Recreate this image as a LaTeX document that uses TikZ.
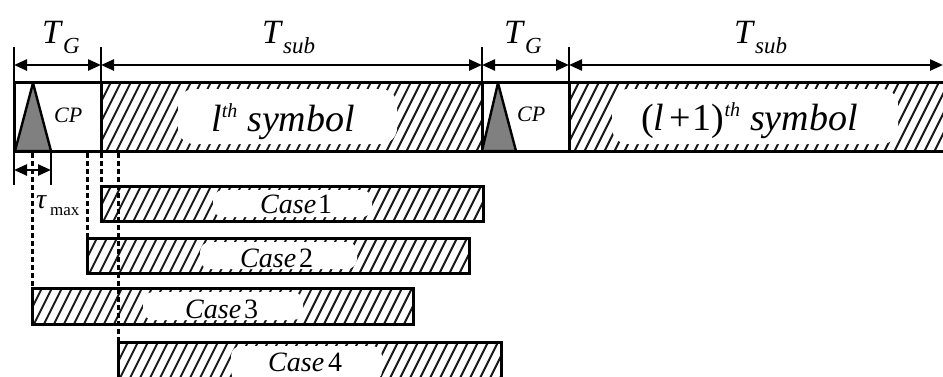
\documentclass[tikz,border=0pt]{standalone}
\usepackage{fontspec}
\setmainfont{Liberation Serif}
\usetikzlibrary{arrows.meta}
\newcommand\fs[1]{\fontsize{#1}{#1}\selectfont}
\newcommand\hatchrect[4]{%
  \begin{scope}
    \clip (#1,#2) rectangle (#3,#4);
    \pgfmathsetmacro\hh{#4-#2}
    \pgfmathsetmacro\ddx{0.5*\hh}
    \pgfmathsetmacro\xs{#1-\ddx}
    \pgfmathsetmacro\xn{\xs+10}
    \foreach \x in {\xs,\xn,...,#3} \draw[hatch] (\x,#4) -- ++(\ddx,-\hh);
  \end{scope}}
\newcommand\casebox[6]{%
  \hatchrect{#1}{#2}{#3}{#4}
  \fill[blob=10pt] (#5,#2+4) rectangle (#6,#4-4);
  \draw[boxline] (#1,#2) rectangle (#3,#4);}
\tikzset{
  hatch/.style={line width=2pt, black!90},
  boxline/.style={line width=3pt, black},
  dim/.style={line width=2.4pt, black, {Triangle[length=13pt,width=11pt]}-{Triangle[length=13pt,width=11pt]}},
  tick/.style={line width=2.8pt, black},
  guide/.style={line width=3pt, black, dash pattern=on 5pt off 3pt},
  blob/.style={fill=white, draw=none, rounded corners=#1},
  tri/.style={fill=black!50, draw=black, line width=2.4pt, line join=round},
  lbl/.style={inner sep=0pt, anchor=base west},
}
\begin{document}
\begin{tikzpicture}[x=1pt,y=-1pt]
\useasboundingbox (0,0) rectangle (943,376);
\clip (0,0) rectangle (943,376);
% ---- top bar ----
\hatchrect{101}{82}{482}{151}
\hatchrect{569}{82}{960}{151}
\fill[blob=16pt] (178,89) rectangle (397,144);
\fill[blob=16pt] (612,89) rectangle (898,144);
\draw[boxline] (14,82) rectangle (960,151);
\draw[boxline] (101,82) -- (101,151);
\draw[boxline] (482,82) -- (482,151);
\draw[boxline] (569,82) -- (569,151);
\draw[tri] (15,151) -- (33,83) -- (51,151) -- cycle;
\draw[tri] (482,151) -- (498,83) -- (516,151) -- cycle;
% dimension coordinates
\coordinate (d0) at (14,65);
\coordinate (d1) at (101,65);
\coordinate (d2) at (482,65);
\coordinate (d3) at (569,65);
\coordinate (d4) at (943,65);
\coordinate (t0) at (14,170);
\coordinate (t1) at (51,170);
% ticks above
\foreach \x in {14,101,482,569} \draw[tick] (\x,47) -- (\x,82);
\draw[dim] (d0) -- (d1);
\draw[dim] (d1) -- (d2);
\draw[dim] (d2) -- (d3);
\draw[dim] (d3) -- (d4);
% labels top
\node[lbl] (tg1) at (42,43) {\fs{34}\textit{T}\raisebox{-10pt}{\fs{23}\textit{G}}};
\node[lbl] (ts1) at (262,43) {\fs{34}\textit{T}\raisebox{-10pt}{\fs{23}\textit{sub}}};
\node[lbl] (tg2) at (504,43) {\fs{34}\textit{T}\raisebox{-10pt}{\fs{23}\textit{G}}};
\node[lbl] (ts2) at (734,43) {\fs{34}\textit{T}\raisebox{-10pt}{\fs{23}\textit{sub}}};
\node[lbl] (cp1) at (54,122) {\fs{22}\textit{CP}};
\node[lbl] (cp2) at (517,121) {\fs{22}\textit{CP}};
\node[lbl] (sym1) at (211,131) {\fs{38}\textit{l}\raisebox{14pt}{\fs{20}\textit{th}}\hspace{10pt}\textit{symbol}};
\node[lbl] (sym2) at (641,130) {\fs{38}(\textit{l}\hspace{5pt}+\hspace{2pt}1)\raisebox{14pt}{\fs{20}\textit{th}}\hspace{10pt}\textit{symbol}};
% tau max
\draw[tick] (14,151) -- (14,185);
\draw[tick] (51,151) -- (51,185);
\draw[dim] (t0) -- (t1);
\node[lbl] (tau) at (36,208) {\fs{28}\textit{τ}\hspace{3pt}\raisebox{-7pt}{\fs{17}max}};
% ---- cases ----
\casebox{101}{186}{483}{221}{213}{372}
\casebox{87}{238}{469}{273}{200}{357}
\casebox{32}{288}{413}{324}{143}{303}
\casebox{118}{342}{501}{385}{231}{382}
\node[lbl] (c1) at (260,213) {\fs{28}\textit{Case}\hspace{2pt}1};
\node[lbl] (c2) at (240,267) {\fs{28}\textit{Case}\hspace{3pt}2};
\node[lbl] (c3) at (185,318) {\fs{28}\textit{Case}\hspace{3pt}3};
\node[lbl] (c4) at (268,371) {\fs{28}\textit{Case}\hspace{4pt}4};
% guides
\draw[guide] (32,153) -- (32,288);
\draw[guide] (87,153) -- (87,238);
\draw[guide] (101,153) -- (101,186);
\draw[guide] (118,153) -- (118,342);
\end{tikzpicture}
\end{document}
